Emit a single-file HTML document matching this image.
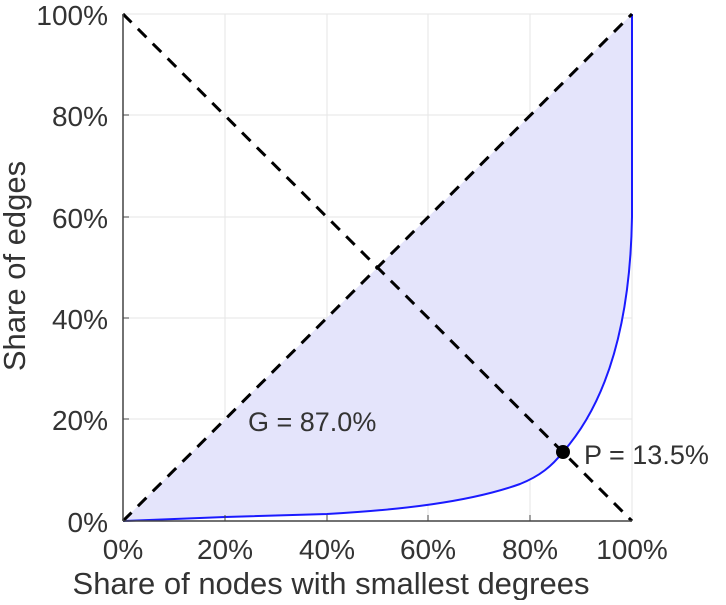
<!DOCTYPE html>
<html><head><style>body{margin:0;background:#fff}svg text{font-family:"Liberation Sans",sans-serif;fill:#333}</style></head>
<body>
<svg width="726" height="600" viewBox="0 0 726 600" xmlns="http://www.w3.org/2000/svg">
<g stroke="#e6e6e6" stroke-width="1">
<line x1="225" y1="14" x2="225" y2="521"/><line x1="327" y1="14" x2="327" y2="521"/><line x1="428" y1="14" x2="428" y2="521"/><line x1="530" y1="14" x2="530" y2="521"/><line x1="632" y1="14" x2="632" y2="521"/>
<line x1="123" y1="14" x2="632" y2="14"/><line x1="123" y1="115" x2="632" y2="115"/><line x1="123" y1="217" x2="632" y2="217"/><line x1="123" y1="318" x2="632" y2="318"/><line x1="123" y1="419" x2="632" y2="419"/>
</g>
<path d="M632,14 L123,521 L225,517 L327,514 C400,510 470,502 520,484 C540,476 552,466 563,452 C600,410 630,340 632,217 Z" fill="#e4e4fb"/>
<path d="M123,521 L225,517 L327,514 C400,510 470,502 520,484 C540,476 552,466 563,452 C600,410 630,340 632,217 L632,14" fill="none" stroke="#1a1aff" stroke-width="2"/>
<g stroke="#000" stroke-width="3" stroke-dasharray="12,9" fill="none">
<line x1="123" y1="521" x2="632" y2="14"/><line x1="123" y1="14" x2="632" y2="521"/>
</g>
<line x1="123" y1="14" x2="123" y2="521" stroke="#444" stroke-width="1.5"/>
<line x1="123" y1="521" x2="632" y2="521" stroke="#444" stroke-width="1.5"/>
<g stroke="#444"><line x1="225" y1="521" x2="225" y2="515"/><line x1="327" y1="521" x2="327" y2="515"/><line x1="428" y1="521" x2="428" y2="515"/><line x1="530" y1="521" x2="530" y2="515"/>
<line x1="123" y1="115" x2="129" y2="115"/><line x1="123" y1="217" x2="129" y2="217"/><line x1="123" y1="318" x2="129" y2="318"/><line x1="123" y1="419" x2="129" y2="419"/></g>
<circle cx="563" cy="452" r="7" fill="#000"/>
<g font-size="28" text-anchor="end">
<text x="108" y="25">100%</text><text x="108" y="126">80%</text><text x="108" y="228">60%</text><text x="108" y="329">40%</text><text x="108" y="430">20%</text><text x="108" y="532">0%</text></g>
<g font-size="28" text-anchor="middle">
<text x="123" y="559">0%</text><text x="225" y="559">20%</text><text x="327" y="559">40%</text><text x="428" y="559">60%</text><text x="530" y="559">80%</text><text x="632" y="559">100%</text></g>
<text x="331" y="594" font-size="31" text-anchor="middle">Share of nodes with smallest degrees</text>
<text transform="translate(25,266) rotate(-90)" font-size="31" text-anchor="middle">Share of edges</text>
<text x="248" y="431" font-size="27">G = 87.0%</text>
<text x="584" y="464" font-size="27">P = 13.5%</text>
</svg>
</body></html>
